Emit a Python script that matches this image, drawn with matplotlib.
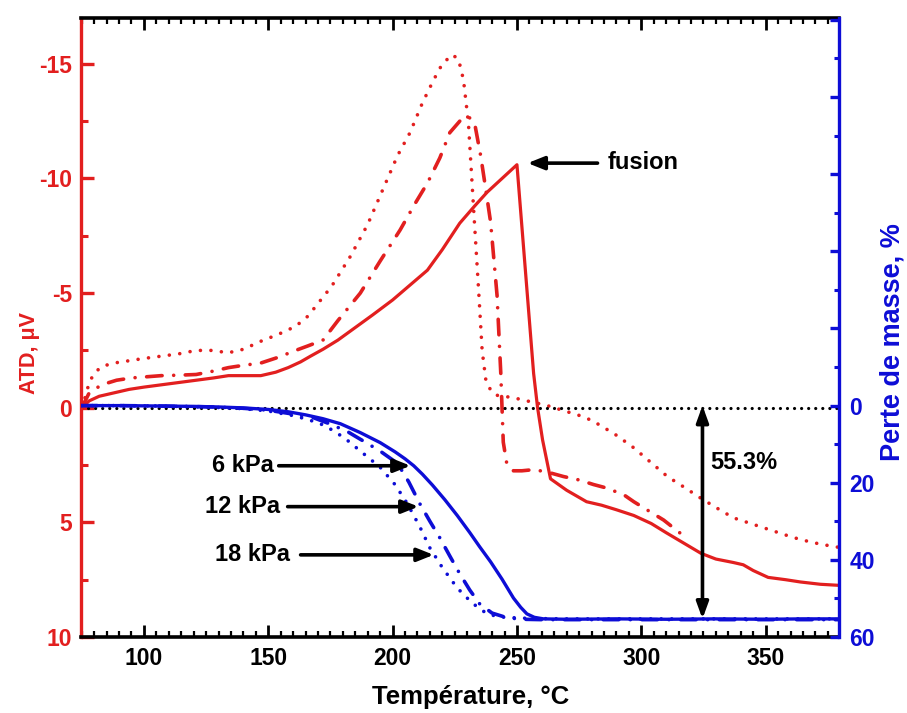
import numpy as np
import matplotlib
matplotlib.use('Agg')
import matplotlib.pyplot as plt
from matplotlib.ticker import MultipleLocator, FuncFormatter

plt.rcParams['font.family'] = ['Liberation Sans', 'DejaVu Sans']
plt.rcParams['font.weight'] = 'bold'
plt.rcParams['axes.unicode_minus'] = False

RED = '#e21f1f'
BLUE = '#0d0dd6'

# ── DTA signal (µV, left axis) ───────────────────────────────────────────
t_atd_6 = [75, 78, 82, 88, 94, 100, 107, 114, 121, 128, 134, 140, 147, 153, 158, 163,
           167, 172, 178, 185, 192, 200, 207, 214, 220, 227, 233, 238, 244, 250,
           256.7, 258.3, 260.3, 263.5, 270, 278, 284, 290, 297, 304, 310, 317, 324,
           330, 337, 341, 345, 351, 358, 364, 372, 380]
atd_6 = [0, -0.3, -0.5, -0.65, -0.8, -0.9, -1.0, -1.1, -1.2, -1.3, -1.4, -1.4, -1.4,
         -1.55, -1.75, -2.0, -2.25, -2.55, -2.95, -3.5, -4.05, -4.7, -5.35, -6.0, -6.9,
         -8.05, -8.8, -9.4, -10.0, -10.6,
         -1.5, 0, 1.4, 3.1, 3.6, 4.1, 4.25, 4.45, 4.7, 5.05, 5.45, 5.9, 6.35,
         6.6, 6.75, 6.85, 7.1, 7.4, 7.5, 7.6, 7.7, 7.75]

t_atd_12 = [75, 78, 83, 89, 95, 101, 107, 114, 121, 128, 134, 140, 147, 154, 161, 166,
            172, 178, 187, 195, 203, 209, 214, 219, 223, 227, 230.5, 233, 235.4, 237.5,
            239.4, 242, 243.5, 244.5, 246, 248.6, 252, 256.7, 262, 268.7, 275, 280.8,
            286, 293, 297, 303, 309, 312.5, 316]
atd_12 = [0, -0.65, -1.0, -1.2, -1.3, -1.35, -1.4, -1.42, -1.45, -1.6, -1.75, -1.85,
          -1.95, -2.2, -2.5, -2.7, -2.95, -3.8, -5.0, -6.4, -7.75, -8.9, -9.8, -10.9,
          -12.0, -12.5, -12.7, -12.4, -11.0, -9.5, -8.1, -4.9, -1.5, 1.5, 2.5, 2.75,
          2.75, 2.7, 2.8, 3.0, 3.15, 3.35, 3.5, 3.8, 4.1, 4.5, 4.9, 5.2, 5.5]

t_atd_18 = [75, 76.5, 78, 80, 83, 88, 94, 100, 107, 114, 121, 127, 134, 140, 147, 154,
            161, 166, 170, 175.5, 183, 190, 196, 202, 207, 212, 216.5, 220, 224, 226.5,
            228.5, 230.5, 232.5, 234.6, 236, 237.5, 239.5, 241.5, 245, 250, 256, 262,
            268, 275.5, 280, 284, 290, 297, 304, 310.5, 317, 324, 330, 337, 344, 351,
            358, 364, 372, 380]
atd_18 = [0, -0.5, -1.1, -1.5, -1.8, -1.95, -2.05, -2.15, -2.25, -2.35, -2.5, -2.5,
          -2.4, -2.55, -2.9, -3.2, -3.55, -4.0, -4.55, -5.3, -6.6, -8.0, -9.5, -11.0,
          -12.0, -13.3, -14.3, -15.0, -15.4, -15.2, -14.3, -12.4, -8.8, -5.1, -2.5,
          -1.2, -0.75, -0.55, -0.5, -0.4, -0.25, -0.1, 0.1, 0.35, 0.55, 0.8, 1.2, 1.75,
          2.4, 3.0, 3.45, 3.95, 4.35, 4.8, 5.05, 5.3, 5.55, 5.75, 5.95, 6.1]

# ── mass loss (%, right axis) ─────────────────────────────────────────────
t_tg_6 = [75, 90, 105, 120, 130, 140, 150, 158, 165, 172, 179, 187, 195, 201, 205,
          208.5, 212, 216, 221, 226, 231, 235, 239.4, 244, 248.6, 251.5, 254, 257,
          260.7, 270, 290, 310, 330, 350, 365, 380]
tg_6 = [0, 0, 0.1, 0.2, 0.35, 0.6, 1.0, 1.6, 2.4, 3.4, 4.7, 7.0, 9.6, 12.0, 13.8,
        15.6, 17.8, 20.6, 24.4, 28.5, 32.9, 36.6, 40.5, 45.0, 49.9, 52.3, 54.0, 54.9,
        55.3, 55.4, 55.3, 55.4, 55.3, 55.4, 55.3, 55.3]

t_tg_12 = [75, 90, 105, 120, 130, 140, 150, 160, 168, 175, 182, 188, 195, 202, 206.5,
           211, 215, 219, 223, 227, 231, 235, 240, 246, 252, 260, 280, 320, 380]
tg_12 = [0, 0, 0.1, 0.25, 0.4, 0.7, 1.2, 2.2, 3.1, 4.8, 6.8, 9.1, 11.8, 15.0, 19.8,
         25.5, 30.0, 34.3, 39.0, 43.6, 47.8, 51.4, 53.8, 55.0, 55.4, 55.5, 55.5, 55.5,
         55.5]

t_tg_18 = [75, 90, 105, 120, 130, 140, 150, 160, 166, 172, 177, 182, 188, 195, 201, 206,
           211, 215, 220, 226, 232, 238, 243, 248.6, 256, 270, 300, 340, 380]
tg_18 = [0, 0, 0.1, 0.3, 0.5, 0.8, 1.4, 2.6, 3.6, 5.0, 6.8, 9.1, 12.3, 16.0, 20.5,
         25.5, 31.5, 36.9, 42.0, 47.3, 51.2, 54.0, 54.8, 55.0, 55.2, 55.3, 55.3, 55.3,
         55.3]

DOT = (0, (0.01, 2.9))
DASHDOT = (0, (4.3, 3.2, 0.01, 3.2))

fig = plt.figure(figsize=(9.07, 7.13), dpi=100)
ax = fig.add_axes([81 / 907, 1 - 637 / 713, 758 / 907, 619 / 713])
ax2 = ax.twinx()

# DTA curves
ax.plot(t_atd_6, atd_6, color=RED, lw=2.3, solid_joinstyle='round')
ax.plot(t_atd_12, atd_12, color=RED, lw=2.6, ls=DASHDOT, dash_capstyle='round')
ax.plot(t_atd_18, atd_18, color=RED, lw=2.6, ls=DOT, dash_capstyle='round')
ax.axhline(0, color='k', lw=2.3, ls=(0, (0.01, 2.2)), dash_capstyle='round')

# TG curves
ax2.plot(t_tg_6, tg_6, color=BLUE, lw=2.4, solid_joinstyle='round')
ax2.plot(t_tg_12, tg_12, color=BLUE, lw=2.6, ls=DASHDOT, dash_capstyle='round')
ax2.plot(t_tg_18, tg_18, color=BLUE, lw=2.6, ls=DOT, dash_capstyle='round')

ax.set_xlim(74.7, 379.5)
ax.set_ylim(10, -17)
ax2.set_ylim(60, -100.5)

ax.xaxis.set_major_locator(MultipleLocator(50))
ax.xaxis.set_minor_locator(MultipleLocator(5))
ax.yaxis.set_major_locator(MultipleLocator(5))
ax.yaxis.set_minor_locator(MultipleLocator(2.5))
ax2.yaxis.set_major_locator(MultipleLocator(20))
ax2.yaxis.set_minor_locator(MultipleLocator(10))
ax2.yaxis.set_major_formatter(FuncFormatter(lambda v, p: '' if v < -0.5 else f'{abs(v):.0f}'))

ax.tick_params(axis='x', which='both', direction='in', top=True, bottom=True,
               labelsize=16.5, pad=7.5)
ax.tick_params(axis='x', which='major', length=8.5, width=2)
ax.tick_params(axis='x', which='minor', length=4.5, width=1.6)
ax.tick_params(axis='y', which='both', direction='in', colors=RED, labelsize=16.5,
               left=True, right=False, pad=6.5)
ax.tick_params(axis='y', which='major', length=9.5, width=2.4)
ax.tick_params(axis='y', which='minor', length=5, width=2.2)
ax2.tick_params(axis='y', which='both', direction='in', colors=BLUE, labelsize=16.5,
                pad=7.5)
ax2.tick_params(axis='y', which='major', length=6.5, width=2.4)
ax2.tick_params(axis='y', which='minor', length=3.5, width=2.2)

for s in ['top', 'bottom']:
    ax.spines[s].set_linewidth(2.6)
    ax.spines[s].set_color('k')
ax.spines['left'].set_linewidth(2.4)
ax.spines['left'].set_color(RED)
ax.spines['right'].set_visible(False)
for s in ['top', 'bottom', 'left']:
    ax2.spines[s].set_visible(False)
ax2.spines['right'].set_linewidth(2.4)
ax2.spines['right'].set_color(BLUE)

# annotations
arrow = dict(arrowstyle='-|>,head_length=0.55,head_width=0.22', lw=2.6, color='k',
             mutation_scale=18, shrinkA=0, shrinkB=0)
ax.annotate('', xy=(254.3, -10.67), xytext=(282.4, -10.67), arrowprops=arrow)
ax.text(286.4, -10.7, 'fusion', ha='left', va='center', fontsize=17)

for lab, y, xt, xa, xh in [('6 kPa', 15.6, 152.2, 154.2, 207.2),
                           ('12 kPa', 26.2, 154.6, 157.8, 210.4),
                           ('18 kPa', 38.7, 158.6, 163.0, 216.5)]:
    ax2.annotate('', xy=(xh, y), xytext=(xa, y), arrowprops=arrow)
    ax2.text(xt, y, lab, ha='right', va='center', fontsize=17)

dbl = dict(arrowstyle='<|-|>,head_length=0.55,head_width=0.2', lw=2.6, color='k',
           mutation_scale=18, shrinkA=0, shrinkB=0)
ax2.annotate('', xy=(324.6, 0), xytext=(324.6, 55.3), arrowprops=dbl)
ax2.text(327.8, 14.8, '55.3%', ha='left', va='center', fontsize=17)

fig.text(29 / 907, 1 - 353 / 713, 'ATD, μV', rotation=90, ha='center', va='center',
         color=RED, fontsize=15.5)
fig.text(892 / 907, 1 - 342 / 713, 'Perte de masse, %', rotation=90, ha='center',
         va='center', color=BLUE, fontsize=19.5)
fig.text(471 / 907, 1 - 697 / 713, 'Température, °C', ha='center', va='center',
         fontsize=18.5)

fig.savefig('out.png', dpi=100)
